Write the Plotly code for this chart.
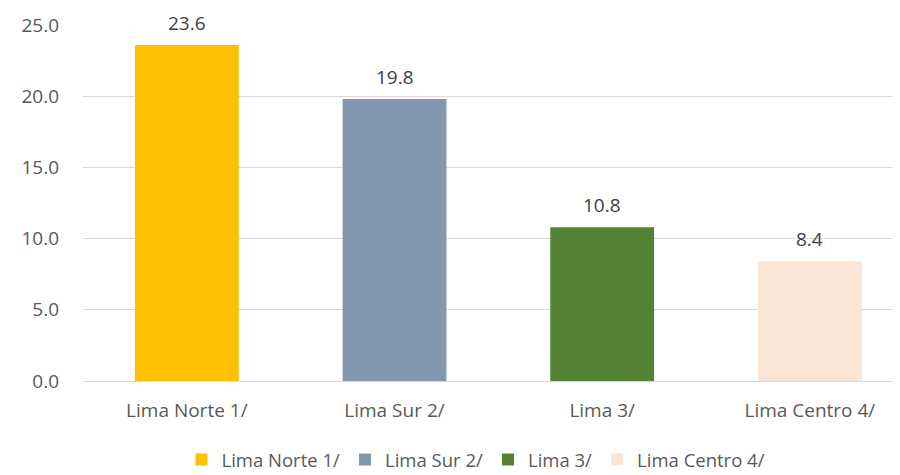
import plotly.graph_objects as go

categories = ["Lima Norte 1/", "Lima Sur 2/", "Lima 3/", "Lima Centro 4/"]
values = [23.6, 19.8, 10.8, 8.4]
colors = ["#FFC000", "#8497B0", "#548235", "#F8E5D6"]
y_ticks = [0, 5, 10, 15, 20, 25]

FONT = "Open Sans, Noto Sans, sans-serif"

fig = go.Figure()
for cat, val, col in zip(categories, values, colors):
    fig.add_trace(go.Bar(
        x=[cat], y=[val], name=cat, marker_color=col, width=0.5,
        marker_line_width=0, showlegend=True,
    ))
    fig.add_annotation(x=cat, y=val, text=f"{val:.1f}", showarrow=False,
                       yshift=22, font=dict(family=FONT, size=19, color="#404040"))

# page body has an 8px margin, so the figure is sized to fit 900x475 window
fig.update_layout(
    width=892, height=467,
    margin=dict(l=75, r=0, t=17, b=94, autoexpand=False),
    plot_bgcolor="white", paper_bgcolor="white",
    barmode="overlay",
    font=dict(family=FONT, size=19, color="#595959"),
    legend=dict(orientation="h", x=0.481, xanchor="center", y=-0.222, yanchor="middle",
                font=dict(family=FONT, size=18.5, color="#595959"),
                itemwidth=30, traceorder="normal"),
    xaxis=dict(categoryorder="array", categoryarray=categories, range=[-0.5, 3.434],
               showgrid=False, ticks="", ticklabelstandoff=16, automargin=False,
               tickfont=dict(family=FONT, size=19, color="#595959")),
    yaxis=dict(range=[0, 25], tickvals=y_ticks, ticktext=[f"{v:.1f}" for v in y_ticks],
               showgrid=True, gridcolor="#D9D9D9", gridwidth=1,
               zeroline=True, zerolinecolor="#D9D9D9", zerolinewidth=1,
               ticks="", ticklabelstandoff=23, automargin=False,
               tickfont=dict(family=FONT, size=19, color="#595959")),
)

fig.write_html("out.html")
